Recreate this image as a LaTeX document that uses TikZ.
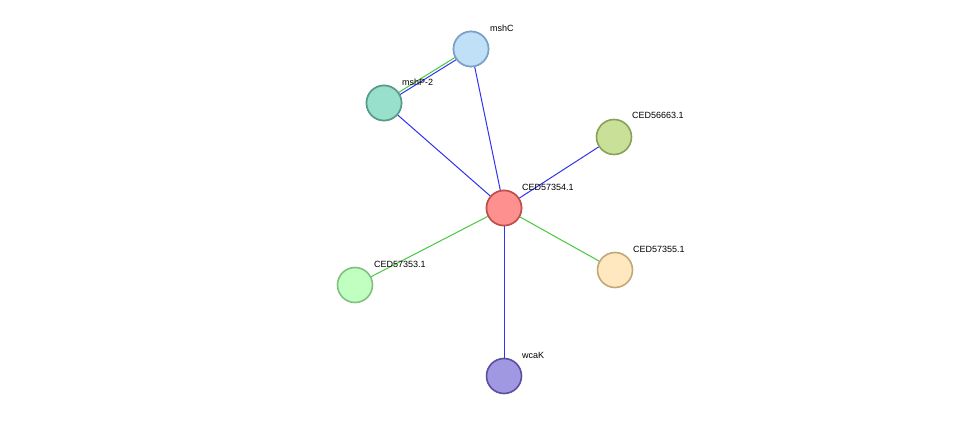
\documentclass[tikz,border=0pt]{standalone}
\usepackage{fontspec}
\setmainfont{Liberation Sans}
\begin{document}
\begin{tikzpicture}[x=1pt,y=-1pt,
  prot/.style={circle,minimum size=35pt,inner sep=0pt,line width=1.6pt},
  lbl/.style={anchor=west,inner sep=0pt,font=\fontsize{9}{10}\selectfont},
  be/.style={draw={rgb,255:red,50;green,50;blue,240},line width=1pt},
  ge/.style={draw={rgb,255:red,70;green,200;blue,60},line width=1pt}]
\useasboundingbox (0,0) rectangle (975,422);
\node[prot,fill={rgb,255:red,192;green,224;blue,248},draw={rgb,255:red,122;green,160;blue,200}] (c) at (471,49) {};
\node[prot,fill={rgb,255:red,152;green,224;blue,204},draw={rgb,255:red,90;green,154;blue,138}] (p) at (384,103) {};
\node[prot,fill={rgb,255:red,200;green,224;blue,152},draw={rgb,255:red,136;green,160;blue,88}] (g) at (614,137) {};
\node[prot,fill={rgb,255:red,255;green,144;blue,144},draw={rgb,255:red,192;green,80;blue,80}] (m) at (504,208) {};
\node[prot,fill={rgb,255:red,255;green,232;blue,192},draw={rgb,255:red,192;green,168;blue,120}] (e) at (615,270) {};
\node[prot,fill={rgb,255:red,192;green,255;blue,192},draw={rgb,255:red,128;green,192;blue,128}] (s) at (355,285) {};
\node[prot,fill={rgb,255:red,160;green,152;blue,224},draw={rgb,255:red,88;green,80;blue,160}] (w) at (504,376) {};
\begin{scope}[on background layer/.try]
\end{scope}
\begin{pgfinterruptboundingbox}\end{pgfinterruptboundingbox}
\draw[be] ([yshift=-1.5pt]p.center) -- ([yshift=-1.5pt]c.center);
\draw[ge] ([yshift=1.5pt]p.center) -- ([yshift=1.5pt]c.center);
\draw[be] (p) -- (m);
\draw[be] (c) -- (m);
\draw[be] (g) -- (m);
\draw[ge] (e) -- (m);
\draw[ge] (s) -- (m);
\draw[be] (w) -- (m);
\foreach \n/\f/\d in {c/{192,224,248}/{122,160,200},p/{152,224,204}/{90,154,138}}{}
\node[prot,fill={rgb,255:red,192;green,224;blue,248},draw={rgb,255:red,122;green,160;blue,200}] (c2) at (471,49) {};
\node[prot,fill={rgb,255:red,152;green,224;blue,204},draw={rgb,255:red,90;green,154;blue,138}] (p2) at (384,103) {};
\node[prot,fill={rgb,255:red,255;green,144;blue,144},draw={rgb,255:red,192;green,80;blue,80}] (m2) at (504,208) {};
\node[lbl] (lc) at (490,28) {mshC};
\node[lbl] (lp) at (402,82) {mshP-2};
\node[lbl] (lg) at (632,115) {CED56663.1};
\node[lbl] (lm) at (522,187) {CED57354.1};
\node[lbl] (le) at (633,249) {CED57355.1};
\node[lbl] (ls) at (374,264) {CED57353.1};
\node[lbl] (lw) at (522,355) {wcaK};
\end{tikzpicture}
\end{document}
